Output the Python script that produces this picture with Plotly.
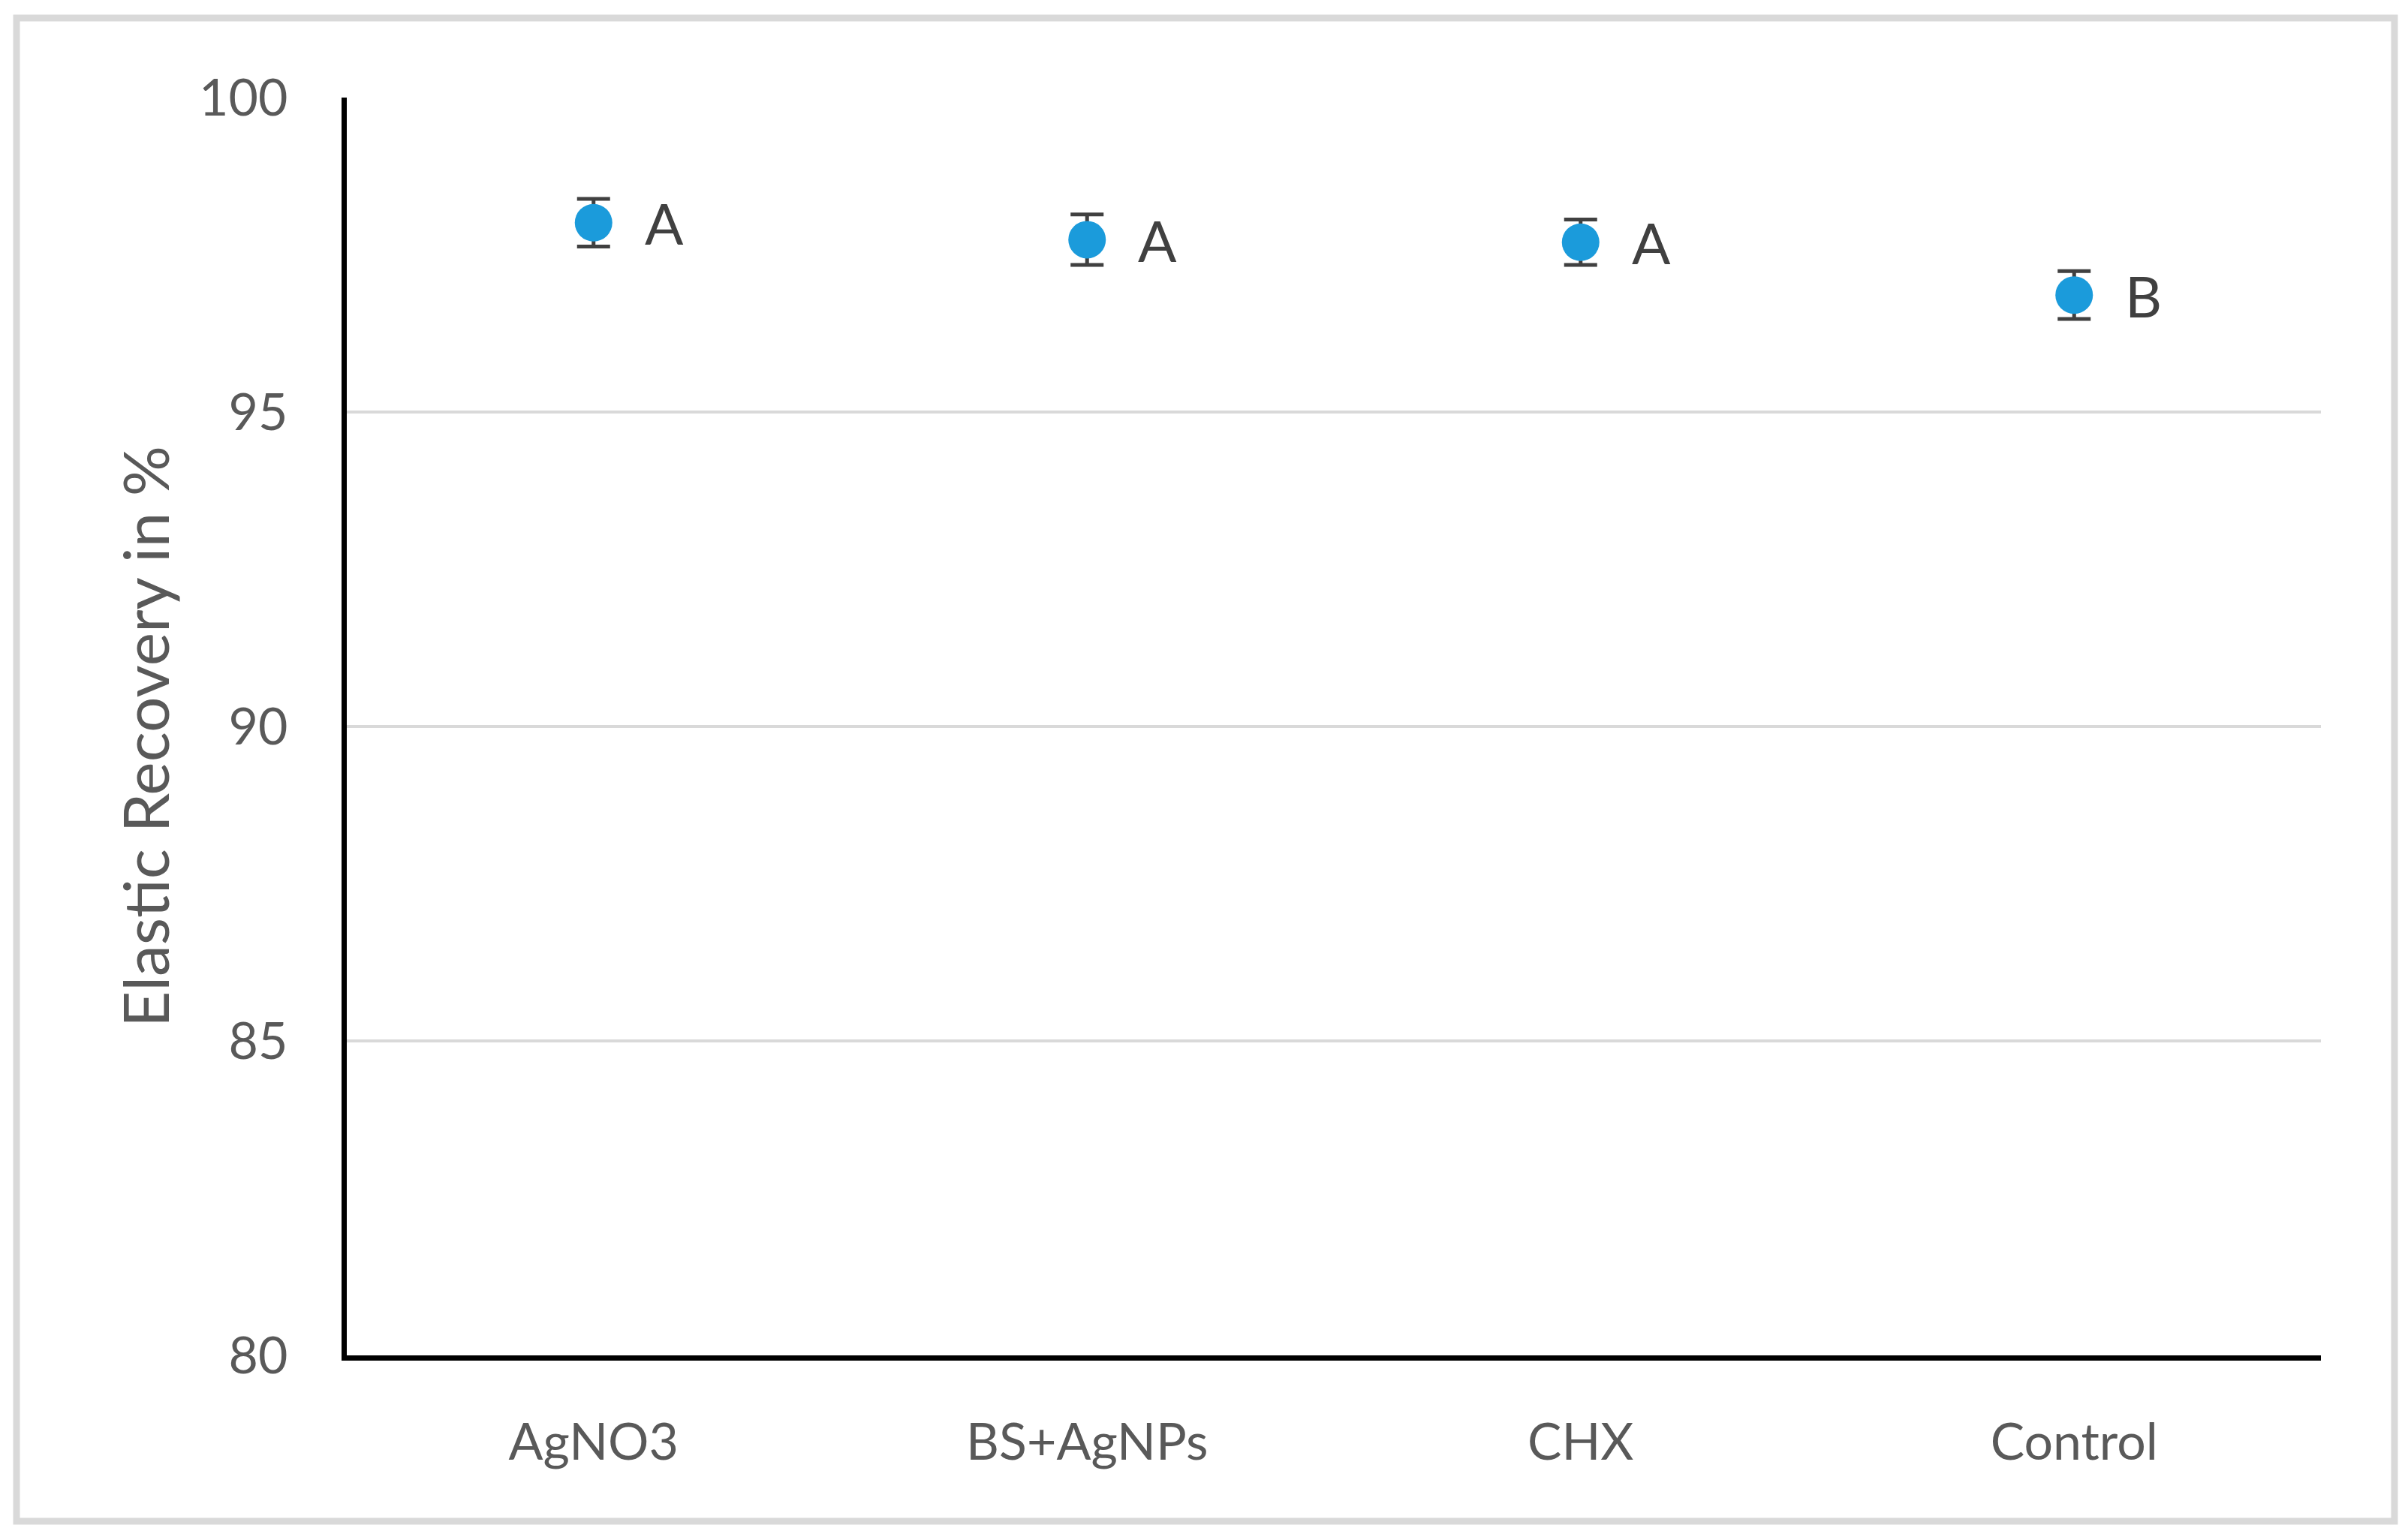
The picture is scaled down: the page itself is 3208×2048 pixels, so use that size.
import plotly.graph_objects as go

categories = ["AgNO3", "BS+AgNPs", "CHX", "Control"]
mean_recovery = [98.01, 97.74, 97.70, 96.86]
error_sd = [0.38, 0.40, 0.36, 0.38]
group_letters = ["A", "A", "A", "B"]
y_ticks = [80, 85, 90, 95, 100]
y_title = "Elastic Recovery in %"

OFF = 8  # default page body margin
W, H = 3208 - 2 * OFF, 2048 - 2 * OFF
L, R, T, B = 462 - OFF, 3092 - OFF, 130 - OFF, 1806 - OFF
pw, ph = R - L, B - T

def px(x):
    return (x - OFF - L) / pw

def py(y):
    return (B - (y - OFF)) / ph

FONT = "Lato"

fig = go.Figure()
fig.add_trace(go.Scatter(
    x=categories, y=mean_recovery, mode="markers",
    marker=dict(size=50, color="#1B9BDB", line=dict(width=0)),
    error_y=dict(type="data", array=error_sd, visible=True,
                 color="#404040", thickness=5, width=22),
    showlegend=False, cliponaxis=False,
))

for c, v, lab in zip(categories, mean_recovery, group_letters):
    fig.add_annotation(x=c, y=v, text=lab, showarrow=False,
                       xanchor="left", yanchor="middle", xshift=66,
                       font=dict(family=FONT, size=76, color="#404040"))

# y-axis title
fig.add_annotation(xref="paper", yref="paper", x=px(192), y=py(982),
                   text=y_title, textangle=-90, showarrow=False,
                   xanchor="center", yanchor="middle",
                   font=dict(family=FONT, size=84, color="#595959"))

fig.update_layout(
    width=W, height=H,
    margin=dict(l=L, r=W - R, t=T, b=H - B, autoexpand=False),
    paper_bgcolor="white", plot_bgcolor="white",
    font=dict(family=FONT, color="#595959"),
)
fig.update_xaxes(
    type="category", range=[-0.5, 3.5],
    showline=True, linecolor="black", linewidth=7,
    showgrid=False, ticks="", ticklabelstandoff=50,
    tickfont=dict(family=FONT, size=68, color="#595959"),
)
fig.update_yaxes(
    range=[80, 100], tickvals=y_ticks, ticktext=[str(v) for v in y_ticks],
    showline=True, linecolor="black", linewidth=7,
    showgrid=True, gridcolor="#d9d9d9", gridwidth=4, zeroline=False,
    ticks="", ticklabelstandoff=58,
    tickfont=dict(family=FONT, size=68, color="#595959"),
)

# outer light-grey frame of the chart area
fig.add_shape(type="rect", xref="paper", yref="paper",
              x0=px(22), x1=px(3190), y0=py(2027), y1=py(24),
              line=dict(color="#d9d9d9", width=9), fillcolor="rgba(0,0,0,0)",
              layer="below")

fig.write_html("out.html")
